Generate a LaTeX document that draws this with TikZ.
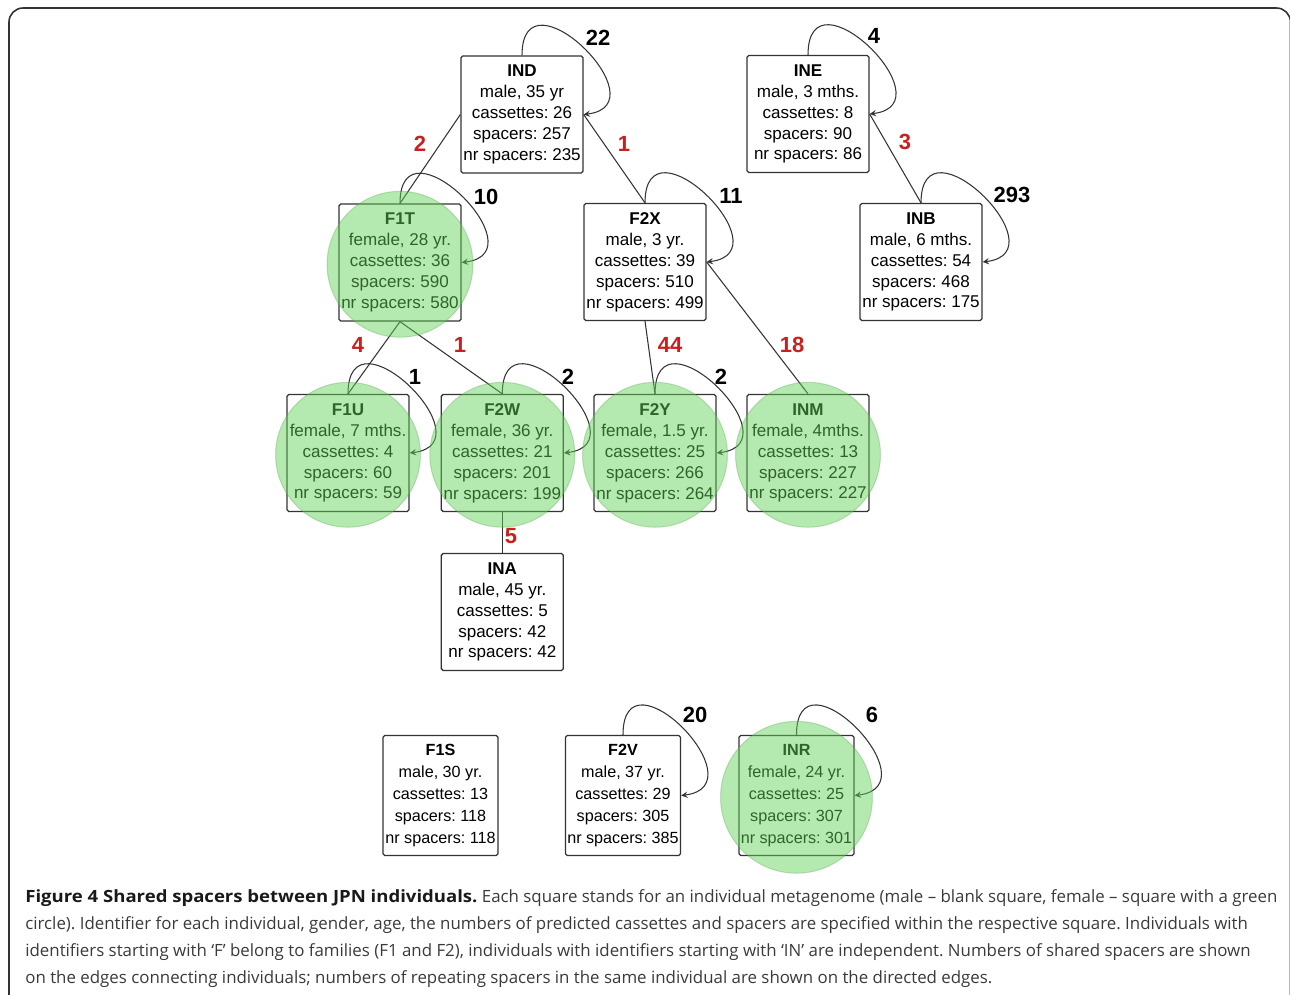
\documentclass[tikz,border=0pt]{standalone}
\usepackage{fontspec}
\setmainfont{Liberation Sans}
\newfontfamily\capfont{Open Sans}[BoldFeatures={FakeStretch=1.1}]
\usepackage{tikz}
\definecolor{cline}{HTML}{333333}
\definecolor{cshared}{HTML}{C8201E}
\definecolor{cfem}{HTML}{62D057}
\definecolor{ccap}{HTML}{3A3A3A}
\frenchspacing

\begin{document}
\begin{tikzpicture}[x=0.02cm,y=-0.02cm,>=stealth,
    indiv/.style={draw=cline,line width=0.75pt,rounded corners=1pt,minimum width=2.44cm,
      minimum height=2.34cm,align=center,inner sep=1pt,font=\fontsize{9.7}{11.9}\selectfont},
    indivlow/.style={indiv,minimum width=2.3cm,minimum height=2.4cm,font=\fontsize{9.2}{12.5}\selectfont},
    female/.style={fill=cfem,fill opacity=0.48,draw=cfem!70!black,draw opacity=0.25,line width=0.6pt},
    shared/.style={draw=cline,line width=0.6pt},
    selfloop/.style={shared,->},
    sharednum/.style={text=cshared,font=\fontsize{12.5}{14}\selectfont\bfseries},
    loopnum/.style={text=black,font=\fontsize{12.5}{14}\selectfont\bfseries},
    caption/.style={anchor=north west,align=left,inner sep=0pt,text=ccap,
      font=\capfont\fontsize{9.6}{15.4}\selectfont}]
  \useasboundingbox (0,0) rectangle (1290,994);
  \draw[cline,line width=0.9pt,rounded corners=8pt] (9,8) rectangle (1290.5,1010);

  % individuals
  \node[indiv] (IND) at (522,114.5) {\textbf{IND}\\male, 35 yr\\cassettes: 26\\spacers: 257\\nr spacers: 235};
  \node[indiv] (INE) at (808,114) {\textbf{INE}\\male, 3 mths.\\cassettes: 8\\spacers: 90\\nr spacers: 86};
  \node[indiv] (F1T) at (400,262.5) {\textbf{F1T}\\female, 28 yr.\\cassettes: 36\\spacers: 590\\nr spacers: 580};
  \node[indiv] (F2X) at (645,262) {\textbf{F2X}\\male, 3 yr.\\cassettes: 39\\spacers: 510\\nr spacers: 499};
  \node[indiv] (INB) at (921,262) {\textbf{INB}\\male, 6 mths.\\cassettes: 54\\spacers: 468\\nr spacers: 175};
  \node[indiv] (F1U) at (348,453) {\textbf{F1U}\\female, 7 mths.\\cassettes: 4\\spacers: 60\\nr spacers: 59};
  \node[indiv] (F2W) at (502.3,453) {\textbf{F2W}\\female, 36 yr.\\cassettes: 21\\spacers: 201\\nr spacers: 199};
  \node[indiv] (F2Y) at (655,453) {\textbf{F2Y}\\female, 1.5 yr.\\cassettes: 25\\spacers: 266\\nr spacers: 264};
  \node[indiv] (INM) at (808,453) {\textbf{INM}\\female, 4mths.\\cassettes: 13\\spacers: 227\\nr spacers: 227};
  \node[indiv] (INA) at (502.3,612) {\textbf{INA}\\male, 45 yr.\\cassettes: 5\\spacers: 42\\nr spacers: 42};
  \node[indivlow] (F1S) at (440.5,795.5) {\textbf{F1S}\\male, 30 yr.\\cassettes: 13\\spacers: 118\\nr spacers: 118};
  \node[indivlow] (F2V) at (623,795.5) {\textbf{F2V}\\male, 37 yr.\\cassettes: 29\\spacers: 305\\nr spacers: 385};
  \node[indivlow] (INR) at (796.5,795.5) {\textbf{INR}\\female, 24 yr.\\cassettes: 25\\spacers: 307\\nr spacers: 301};

  % shared spacers
  \foreach \a/\b in {IND.west/F1T.north,IND.east/F2X.north,INE.east/INB.north,
      F1T.south/F1U.north,F1T.south/F2W.north,F2X.south/F2Y.north,
      F2X.east/INM.north,F2W.south/INA.north}
    \draw[shared] (\a) -- (\b);
  \foreach \x/\y/\n [count=\i] in {420/144/2,624/144/1,905/142/3,358/345/4,
      460/345/1,670/345/44,792/345/18,511/536/5}
    \node[sharednum] (s\i) at (\x,\y) {\n};

  % repeating spacers
  \foreach \n in {IND,INE,F1T,F2X,INB,F1U,F2W,F2Y,F2V,INR}
    \draw[selfloop] (\n.north) .. controls +(0,-90) and +(80,-10) .. (\n.east);
  \foreach \x/\y/\n [count=\i] in {598/38/22,874/36/4,486/197/10,731/196/11,1012/195/293,
      415/377/1,568/377/2,721/377/2,695/715/20,872/715/6}
    \node[loopnum] (r\i) at (\x,\y) {\n};

  % females
  \foreach \n/\r in {F1T/1.46cm,F1U/1.45cm,F2W/1.45cm,F2Y/1.45cm,INM/1.45cm,INR/1.52cm}
    \draw[female] ([yshift=-1pt]\n.center) circle[radius=\r];

  \node[caption] (cap) at (25,889) {{\color{black!90}\bfseries Figure 4 Shared spacers between JPN individuals.} Each square stands for an individual metagenome (male – blank square, female – square with a green\\
circle). Identifier for each individual, gender, age, the numbers of predicted cassettes and spacers are specified within the respective square. Individuals with\\
identifiers starting with ‘F’ belong to families (F1 and F2), individuals with identifiers starting with ‘IN’ are independent. Numbers of shared spacers are shown\\
on the edges connecting individuals; numbers of repeating spacers in the same individual are shown on the directed edges.};
\end{tikzpicture}
\end{document}
